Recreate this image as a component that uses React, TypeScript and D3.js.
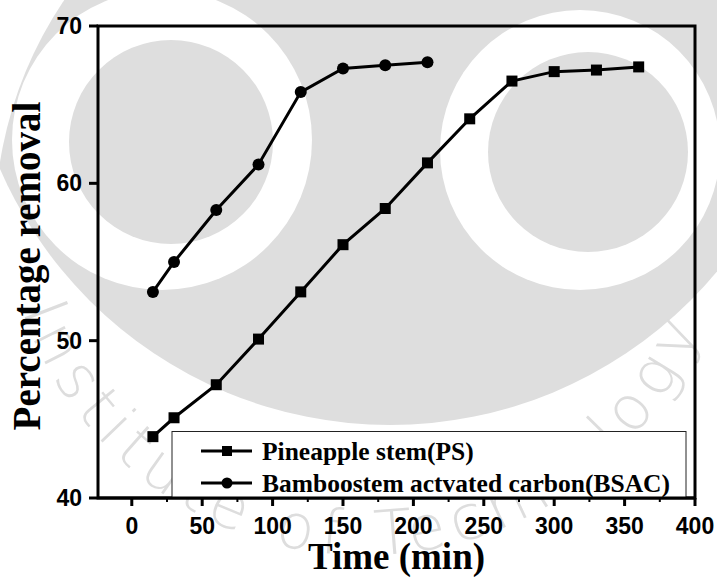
import React from "react";
import * as d3 from "d3";

// Contact time (min) and percentage removal for each adsorbent
const psTime = [15, 30, 60, 90, 120, 150, 180, 210, 240, 270, 300, 330, 360];
const psRemoval = [43.9, 45.1, 47.2, 50.1, 53.1, 56.1, 58.4, 61.3, 64.1, 66.5, 67.1, 67.2, 67.4];
const bsacTime = [15, 30, 60, 90, 120, 150, 180, 210];
const bsacRemoval = [53.1, 55.0, 58.3, 61.2, 65.8, 67.3, 67.5, 67.7];

const xTicks = [0, 50, 100, 150, 200, 250, 300, 350, 400];
const xMinorTicks = [25, 75, 125, 175, 225, 275, 325, 375];
const yTicks = [40, 50, 60, 70];
const seriesNames = ["Pineapple stem(PS)", "Bamboostem actvated carbon(BSAC)"];

const W = 717;
const H = 578;
const M = { left: 98, right: 695, top: 26, bottom: 498 };

const SERIF = "'Times New Roman', 'Liberation Serif', serif";
const SANS = "Arial, 'Liberation Sans', sans-serif";
const WM = "#dedede";

export default function App() {
  const x = d3.scaleLinear().domain([-24, 400]).range([M.left, M.right]);
  const y = d3.scaleLinear().domain([40, 70]).range([M.bottom, M.top]);

  const line = d3
    .line<[number, number]>()
    .x((d) => x(d[0]))
    .y((d) => y(d[1]));

  const ps: [number, number][] = psTime.map((t, i) => [t, psRemoval[i]]);
  const bsac: [number, number][] = bsacTime.map((t, i) => [t, bsacRemoval[i]]);

  const sq = 11;
  const legendY = [451, 483];

  return (
    <svg
      width={W}
      height={H}
      style={{ position: "absolute", left: 0, top: 0, background: "#fff" }}
    >
      {/* faint emblem in the background */}
      <defs>
        <clipPath id="headClip">
          <circle cx={395} cy={225} r={400} />
        </clipPath>
        <path id="rimPath" d="M 25 318 A 362 362 0 0 0 700 330" />
      </defs>
      <g>
        <g clipPath="url(#headClip)">
          <circle cx={390} cy={0} r={425} fill={WM} />
        </g>
        <circle cx={162} cy={140} r={150} fill="#fff" />
        <circle cx={171} cy={142} r={102} fill={WM} />
        <circle cx={580} cy={150} r={140} fill="#fff" />
        <circle cx={588} cy={152} r={100} fill={WM} />
        <text
          fontFamily="'DejaVu Sans', sans-serif"
          fontWeight={200}
          fontSize={62}
          fill="#dddddd"
          letterSpacing={8}
        >
          <textPath href="#rimPath" startOffset="50%" textAnchor="middle">
            Institute of Technology
          </textPath>
        </text>
      </g>

      {/* frame */}
      <rect
        x={M.left}
        y={M.top}
        width={M.right - M.left}
        height={M.bottom - M.top}
        fill="none"
        stroke="#000"
        strokeWidth={3}
      />

      {/* x ticks */}
      {xTicks.map((t) => (
        <g key={"x" + t}>
          <line x1={x(t)} x2={x(t)} y1={M.bottom} y2={M.bottom + 8} stroke="#000" strokeWidth={3} />
          <text
            x={x(t)}
            y={534}
            textAnchor="middle"
            fontFamily={SANS}
            fontWeight="bold"
            fontSize={23}
          >
            {t}
          </text>
        </g>
      ))}
      {xMinorTicks.map((t) => (
        <line key={"xm" + t} x1={x(t)} x2={x(t)} y1={M.bottom} y2={M.bottom + 4} stroke="#000" strokeWidth={2} />
      ))}

      {/* y ticks */}
      {yTicks.map((t) => (
        <g key={"y" + t}>
          <line x1={M.left - 9} x2={M.left} y1={y(t)} y2={y(t)} stroke="#000" strokeWidth={3} />
          <text
            x={82}
            y={y(t) + 8}
            textAnchor="end"
            fontFamily={SANS}
            fontWeight="bold"
            fontSize={23}
          >
            {t}
          </text>
        </g>
      ))}

      {/* axis titles */}
      <text
        x={(M.left + M.right) / 2}
        y={569}
        textAnchor="middle"
        fontFamily={SERIF}
        fontWeight="bold"
        fontSize={37}
      >
        Time (min)
      </text>
      <text
        transform={`translate(40, 266) rotate(-90)`}
        textAnchor="middle"
        fontFamily={SERIF}
        fontWeight="bold"
        fontSize={39}
      >
        Percentage removal
      </text>

      {/* series */}
      <path d={line(ps) || ""} fill="none" stroke="#000" strokeWidth={3} />
      <path d={line(bsac) || ""} fill="none" stroke="#000" strokeWidth={3} />
      {ps.map((d, i) => (
        <rect key={"p" + i} x={x(d[0]) - sq / 2} y={y(d[1]) - sq / 2} width={sq} height={sq} fill="#000" />
      ))}
      {bsac.map((d, i) => (
        <circle key={"b" + i} cx={x(d[0])} cy={y(d[1])} r={6} fill="#000" />
      ))}

      {/* legend */}
      <rect x={172} y={431.5} width={514} height={M.bottom - 431.5} fill="#fff" stroke="#222" strokeWidth={1} />
      {seriesNames.map((name, i) => (
        <g key={name}>
          <line x1={201} x2={252} y1={legendY[i]} y2={legendY[i]} stroke="#000" strokeWidth={3} />
          {i === 0 ? (
            <rect x={227 - 5} y={legendY[i] - 5} width={10} height={10} fill="#000" />
          ) : (
            <circle cx={227} cy={legendY[i]} r={5.5} fill="#000" />
          )}
          <text
            x={262}
            y={legendY[i] + 8.5}
            fontFamily={SERIF}
            fontWeight="bold"
            fontSize={25.5}
          >
            {name}
          </text>
        </g>
      ))}
      {/* bottom axis drawn again over the legend box */}
      <line x1={M.left} x2={M.right} y1={M.bottom} y2={M.bottom} stroke="#000" strokeWidth={3} />
    </svg>
  );
}
